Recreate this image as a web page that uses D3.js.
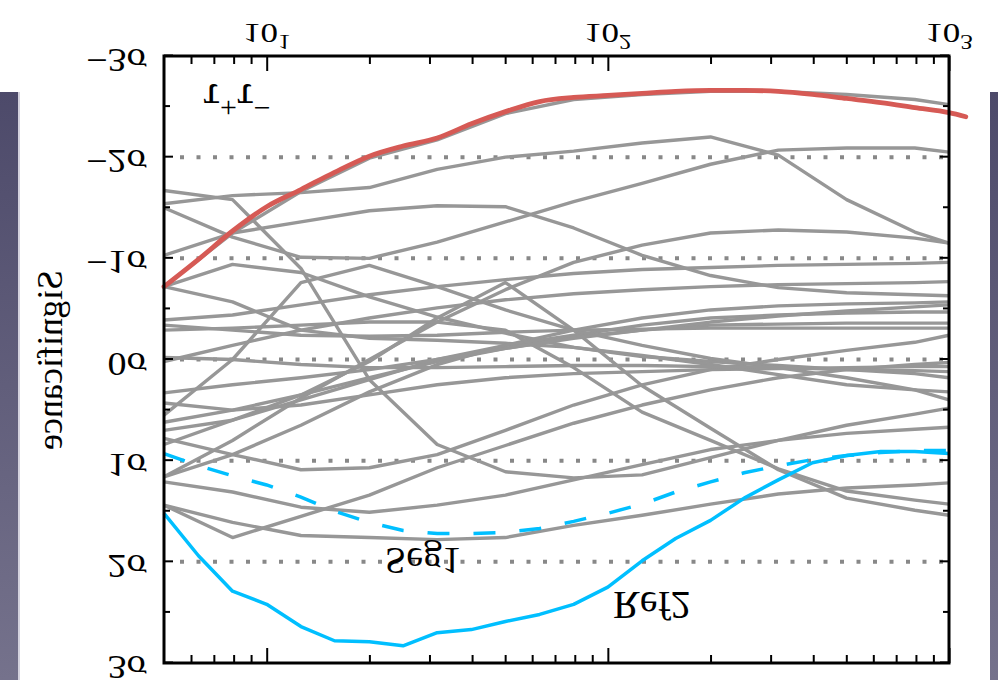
<!DOCTYPE html>
<html>
<head>
<meta charset="utf-8">
<script src="https://cdn.jsdelivr.net/npm/d3@7"></script>
<style>
  body { margin: 0; background: #fff; }
  text { font-family: "Liberation Serif", "DejaVu Serif", serif; fill: #000; }
</style>
</head>
<body>
<div id="chart"></div>
<script>
// ---- data (significance in sigma vs. x on a log axis) ----
const xGrid = [5, 6.31, 7.94, 10, 12.6, 15.8, 20, 25.1, 31.6, 39.8, 50.1, 63.1,
               79.4, 100, 126, 158, 200, 251, 316, 398, 501, 631, 794, 1000];
const xCoarse = [5, 7.94, 12.6, 20, 31.6, 50.1, 79.4, 126, 200, 316, 501, 794, 1000];

const tauTau = [-0.72, -0.99, -1.27, -1.51, -1.68, -1.85, -2.01, -2.11, -2.19, -2.33, -2.45, -2.55,
                -2.59, -2.61, -2.63, -2.65, -2.66, -2.66, -2.65, -2.62, -2.58, -2.54, -2.49, -2.44];
const tauTauTail = [1120, -2.40];
const ref2 = [1.52, 1.94, 2.29, 2.42, 2.64, 2.78, 2.79, 2.83, 2.70, 2.67, 2.59, 2.52,
              2.42, 2.25, 1.99, 1.77, 1.59, 1.37, 1.19, 1.02, 0.95, 0.91, 0.91, 0.93];
const seg1 = [0.93, 1.05, 1.15, 1.24, 1.36, 1.50, 1.61, 1.69, 1.72, 1.72, 1.71, 1.67,
              1.60, 1.52, 1.43, 1.31, 1.21, 1.12, 1.05, 0.99, 0.95, 0.92, 0.90, 0.90];

// other channels (grey), sampled on xCoarse
const grayCurves = [
  [-0.72, -1.25, -1.66, -1.99, -2.17, -2.43, -2.57, -2.62, -2.65, -2.65, -2.62, -2.57, -2.52],
  [-1.54, -1.62, -1.65, -1.70, -1.88, -2.00, -2.06, -2.14, -2.20, -2.02, -1.58, -1.26, -1.15],
  [-1.50, -1.21, -1.01, -1.00, -1.16, -1.36, -1.56, -1.74, -1.93, -2.07, -2.09, -2.09, -2.05],
  [-1.03, -1.25, -1.36, -1.47, -1.52, -1.51, -1.30, -1.03, -0.83, -0.71, -0.66, -0.64, -0.63],
  [-0.72, -0.94, -0.86, -0.62, -0.42, -0.26, -0.12, -0.03, 0.02, 0.06, 0.10, 0.14, 0.18],
  [-0.72, -0.57, -0.29, -0.21, -0.19, -0.16, -0.12, -0.04, 0.05, 0.15, 0.25, 0.30, 0.32],
  [-1.67, -1.58, -0.90, 0.20, 0.84, 1.11, 1.17, 1.14, 0.97, 0.80, 0.65, 0.54, 0.48],
  [1.44, 1.61, 1.74, 1.76, 1.78, 1.76, 1.64, 1.54, 1.43, 1.33, 1.27, 1.24, 1.22],
  [1.44, 1.76, 1.55, 1.34, 1.07, 0.85, 0.63, 0.45, 0.30, 0.18, 0.10, 0.05, 0.03],
  [1.21, 1.31, 1.46, 1.51, 1.44, 1.34, 1.19, 1.04, 0.89, 0.80, 0.73, 0.69, 0.67],
  [1.16, 0.80, 0.38, 0.00, -0.37, -0.69, -0.96, -1.13, -1.25, -1.28, -1.26, -1.20, -1.15],
  [1.16, 0.94, 0.65, 0.32, 0.05, -0.14, -0.29, -0.41, -0.49, -0.53, -0.55, -0.56, -0.57],
  [0.84, 0.60, 0.35, 0.02, -0.41, -0.76, -0.29, 0.26, 0.68, 1.09, 1.37, 1.49, 1.54],
  [0.78, 0.94, 1.09, 1.07, 0.94, 0.70, 0.45, 0.25, 0.10, 0.00, -0.09, -0.17, -0.24],
  [0.70, 0.60, 0.40, 0.20, 0.00, -0.14, -0.24, -0.34, -0.41, -0.44, -0.46, -0.47, -0.47],
  [0.62, 0.50, 0.35, 0.18, 0.02, -0.11, -0.22, -0.29, -0.34, -0.35, -0.36, -0.36, -0.36],
  [0.55, 0.00, -0.76, -0.93, -0.72, -0.49, -0.29, -0.14, -0.01, 0.08, 0.18, 0.30, 0.40],
  [0.43, 0.50, 0.45, 0.35, 0.25, 0.18, 0.14, 0.12, 0.10, 0.09, 0.08, 0.07, 0.07],
  [0.33, 0.25, 0.18, 0.10, 0.00, -0.11, -0.21, -0.29, -0.37, -0.43, -0.48, -0.52, -0.54],
  [0.02, -0.14, -0.29, -0.41, -0.51, -0.59, -0.65, -0.69, -0.72, -0.74, -0.75, -0.76, -0.77],
  [-0.02, 0.00, 0.05, 0.08, 0.08, 0.07, 0.06, 0.06, 0.07, 0.08, 0.10, 0.11, 0.12],
  [-0.29, -0.31, -0.34, -0.37, -0.37, -0.29, 0.08, 0.52, 0.80, 1.08, 1.30, 1.39, 1.43],
  [-0.34, -0.29, -0.24, -0.23, -0.24, -0.27, -0.29, -0.30, -0.31, -0.31, -0.31, -0.31, -0.31],
  [-0.39, -0.44, -0.54, -0.64, -0.72, -0.79, -0.85, -0.89, -0.91, -0.93, -0.94, -0.95, -0.96]
];

const yTicks = [-3, -2, -1, 0, 1, 2, 3];
const yTickLabels = ["\u22123\u03c3", "\u22122\u03c3", "\u22121\u03c3", "0\u03c3", "1\u03c3", "2\u03c3", "3\u03c3"];
const yMinor = [-2.5, -1.5, -0.5, 0.5, 1.5, 2.5];
const gridLevels = [-2, -1, 0, 1, 2];
const xMajor = [10, 100, 1000];
const xMajorExp = ["1", "2", "3"];
const xMinor = [6, 7, 8, 9, 20, 30, 40, 50, 60, 70, 80, 90, 200, 300, 400, 500, 600, 700, 800, 900];

// ---- layout ----
const W = 998, H = 680;
const svg = d3.select("#chart").append("svg")
    .attr("width", W)
    .attr("height", H);

// slide background strips at the sides
const defs = svg.append("defs");
const grad = defs.append("linearGradient").attr("id", "slide").attr("x1", 0).attr("y1", 0).attr("x2", 0).attr("y2", 1);
grad.append("stop").attr("offset", "0%").attr("stop-color", "#4d4a6a");
grad.append("stop").attr("offset", "100%").attr("stop-color", "#75728c");
svg.append("rect").attr("x", 0).attr("y", 92).attr("width", 18).attr("height", H - 92).attr("fill", "url(#slide)");
svg.append("rect").attr("x", 18).attr("y", 92).attr("width", 2).attr("height", H - 92).attr("fill", "#d4d2de");
svg.append("rect").attr("x", 990).attr("y", 92).attr("width", 8).attr("height", H - 92).attr("fill", "url(#slide)");

// the whole figure is shown mirrored top-to-bottom
const g = svg.append("g").attr("transform", `translate(0,${H}) scale(1,-1)`);

const x = d3.scaleLog().domain([5, 1000]).range([164, 949]);
const y = d3.scaleLinear().domain([-3, 3]).range([624, 17]);

// dotted reference levels
g.append("g").selectAll("line")
    .data(gridLevels)
    .join("line")
    .attr("x1", 180).attr("x2", 945)
    .attr("y1", d => y(d)).attr("y2", d => y(d))
    .attr("stroke", "#888")
    .attr("stroke-width", 4)
    .attr("stroke-dasharray", "4 12.5");

const line = d3.line()
    .x(d => x(d[0]))
    .y(d => y(d[1]));

// grey curves
g.append("g").selectAll("path")
    .data(grayCurves.map(vals => vals.map((v, i) => [xCoarse[i], v])))
    .join("path")
    .attr("d", line)
    .attr("fill", "none")
    .attr("stroke", "#979797")
    .attr("stroke-width", 3.4)
    .attr("stroke-linejoin", "round");

// Seg1 (dashed) and Ref2 (solid)
g.append("path")
    .attr("d", line(seg1.map((v, i) => [xGrid[i], v])))
    .attr("fill", "none")
    .attr("stroke", "#00bfff")
    .attr("stroke-width", 3.5)
    .attr("stroke-dasharray", "22 24");

g.append("path")
    .attr("d", line(ref2.map((v, i) => [xGrid[i], v])))
    .attr("fill", "none")
    .attr("stroke", "#00bfff")
    .attr("stroke-width", 3.5)
    .attr("stroke-linejoin", "round");

// tau tau (red), runs slightly past the frame
const tauPts = tauTau.map((v, i) => [xGrid[i], v]).concat([tauTauTail]);
g.append("path")
    .attr("d", line.curve(d3.curveMonotoneX)(tauPts))
    .attr("fill", "none")
    .attr("stroke", "#d65a55")
    .attr("stroke-width", 4.8)
    .attr("stroke-linecap", "round");

// frame
g.append("rect")
    .attr("x", 164).attr("y", 17)
    .attr("width", 949 - 164).attr("height", 624 - 17)
    .attr("fill", "none")
    .attr("stroke", "#000")
    .attr("stroke-width", 3);

// ticks on all four sides, pointing inwards
function ticks(axis, pos, values, size) {
    g.append("g")
        .attr("transform", pos)
        .call(axis.tickValues(values).tickSize(size).tickFormat(""))
        .call(a => a.select(".domain").remove())
        .selectAll("line")
        .attr("stroke", "#000")
        .attr("stroke-width", 2);
}
ticks(d3.axisBottom(x), "translate(0,624)", xMajor, -15);
ticks(d3.axisBottom(x), "translate(0,624)", xMinor, -8);
ticks(d3.axisTop(x), "translate(0,17)", xMajor, -15);
ticks(d3.axisTop(x), "translate(0,17)", xMinor, -8);
ticks(d3.axisLeft(y), "translate(164,0)", yTicks, -9);
ticks(d3.axisLeft(y), "translate(164,0)", yMinor, -6);
ticks(d3.axisRight(y), "translate(949,0)", yTicks, -9);
ticks(d3.axisRight(y), "translate(949,0)", yMinor, -6);

// tick labels (the figure's labels are wider than normal type)
const xl = g.append("g").selectAll("text")
    .data(xMajor)
    .join("text")
    .attr("transform", d => `translate(${x(d)},656) scale(1.25,1)`)
    .attr("text-anchor", "middle")
    .style("font-size", "28px");
xl.append("tspan").text("10");
xl.append("tspan").attr("dy", -11).style("font-size", "20px").text((d, i) => xMajorExp[i]);

g.append("g").selectAll("text")
    .data(yTicks)
    .join("text")
    .attr("transform", d => `translate(147,${y(d) + 7}) scale(1.12,1)`)
    .attr("text-anchor", "end")
    .style("font-size", "34px")
    .text((d, i) => yTickLabels[i]);

// axis title
g.append("text")
    .attr("transform", "translate(62,320) rotate(-90)")
    .attr("text-anchor", "middle")
    .style("font-size", "36px")
    .text("Significance");

// curve labels
const tt = g.append("text")
    .attr("x", 203).attr("y", 596)
    .style("font-size", "42px");
tt.append("tspan").text("\u03c4");
tt.append("tspan").attr("dy", -14).style("font-size", "30px").text("+");
tt.append("tspan").attr("dy", 14).text("\u03c4");
tt.append("tspan").attr("dy", -14).style("font-size", "30px").text("\u2212");

g.append("text")
    .attr("x", 385).attr("y", 132)
    .style("font-size", "38px")
    .text("Seg1");

g.append("text")
    .attr("x", 613).attr("y", 88)
    .style("font-size", "40px")
    .text("Ref2");
</script>
</body>
</html>
